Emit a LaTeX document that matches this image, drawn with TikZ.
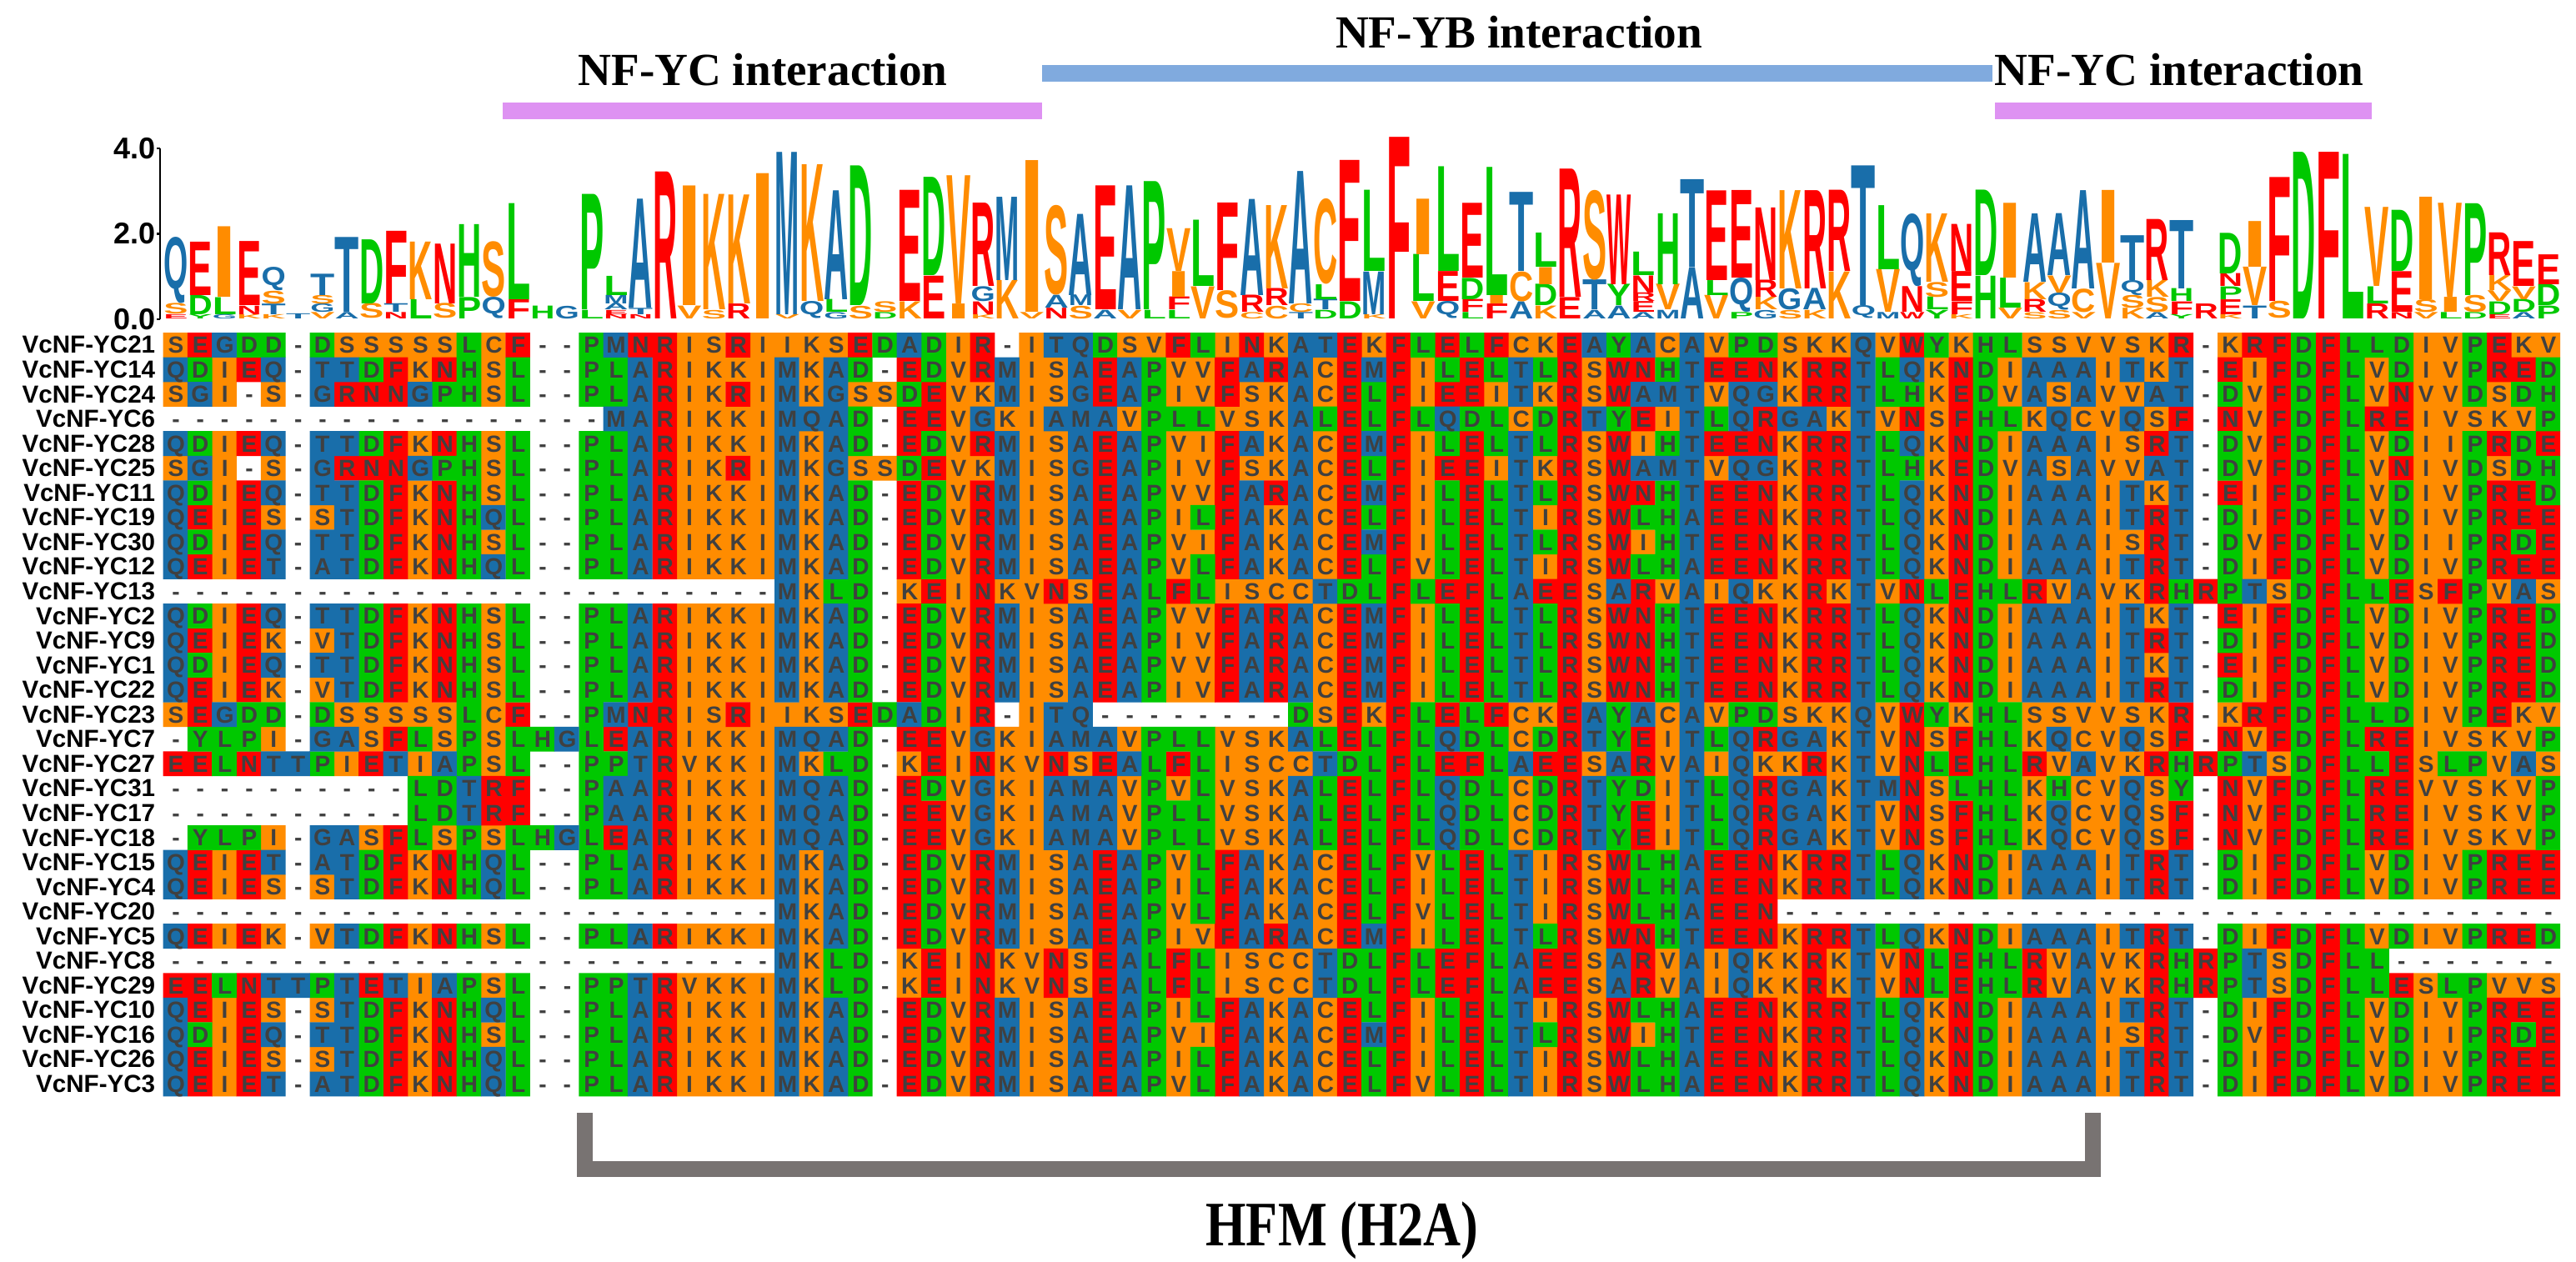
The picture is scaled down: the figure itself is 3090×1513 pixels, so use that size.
\documentclass[tikz,border=0pt]{standalone}
\usepackage{fontspec}
\setmainfont{Liberation Serif}
\setsansfont{Liberation Sans}
\usepackage{graphicx}

\definecolor{cOrange}{RGB}{255,140,0}
\definecolor{cRed}{RGB}{255,0,0}
\definecolor{cGreen}{RGB}{0,200,0}
\definecolor{cBlue}{RGB}{25,110,170}
\definecolor{resText}{RGB}{64,64,64}
\definecolor{barPink}{RGB}{222,146,242}
\definecolor{barBlue}{RGB}{128,170,222}
\definecolor{hfmGray}{RGB}{120,115,114}
% residue colours
\colorlet{aaS}{cOrange}\colorlet{aaV}{cOrange}\colorlet{aaI}{cOrange}\colorlet{aaK}{cOrange}\colorlet{aaC}{cOrange}
\colorlet{aaE}{cRed}\colorlet{aaF}{cRed}\colorlet{aaN}{cRed}\colorlet{aaR}{cRed}\colorlet{aaW}{cRed}
\colorlet{aaD}{cGreen}\colorlet{aaL}{cGreen}\colorlet{aaP}{cGreen}\colorlet{aaH}{cGreen}\colorlet{aaY}{cGreen}
\colorlet{aaA}{cBlue}\colorlet{aaT}{cBlue}\colorlet{aaQ}{cBlue}\colorlet{aaG}{cBlue}\colorlet{aaM}{cBlue}
\def\grpS{O}\def\grpV{O}\def\grpI{O}\def\grpK{O}\def\grpC{O}
\def\grpE{R}\def\grpF{R}\def\grpN{R}\def\grpR{R}\def\grpW{R}
\def\grpD{G}\def\grpL{G}\def\grpP{G}\def\grpH{G}\def\grpY{G}
\def\grpA{B}\def\grpT{B}\def\grpQ{B}\def\grpG{B}\def\grpM{B}

\pgfdeclarelayer{cells}
\pgfsetlayers{cells,main}

\tikzset{
  rowname/.style={anchor=east,inner sep=0,font=\sffamily\bfseries\fontsize{7.4}{8}\selectfont},
  seqtext/.style={anchor=west,inner sep=0,text height=5pt,text depth=0pt,text=resText,
    font=\sffamily\bfseries\fontsize{7}{8}\selectfont},
  logoletter/.style={anchor=south west,inner sep=0,font=\sffamily\bfseries},
  axislbl/.style={anchor=east,inner sep=0,font=\sffamily\bfseries\fontsize{9}{10}\selectfont},
  title/.style={anchor=base,inner sep=0,font=\bfseries\fontsize{13.8}{15}\selectfont},
  bracket/.style={draw=hfmGray,line width=4.75pt},
}

\makeatletter
\newcount\colno
\def\gapchar{-}
\gdef\cellsO{}\gdef\cellsR{}\gdef\cellsG{}\gdef\cellsB{}
\newcommand\cellbox[1]{\makebox[7.335pt]{#1}}
\newcommand\seqrow[3]{%
  \pgfmathsetmacro\cy{399+29.55*(#1-1)}%
  \global\colno=0
  \gdef\rowtext{}%
  \@tfor\rsd:=#3\do{%
    \ifx\rsd\gapchar\else
      \pgfmathsetmacro\cx{195.5+29.34*\colno}%
      \edef\grp{\csname grp\rsd\endcsname}%
      \expandafter\xdef\csname cells\grp\endcsname{\csname cells\grp\endcsname(\cx,\cy) rectangle +(29.7,29.8) }%
    \fi
    \xdef\rowtext{\unexpanded\expandafter{\rowtext}\noexpand\cellbox{\rsd}}%
    \global\advance\colno by 1
  }%
  \node[rowname] (name#1) at (187,\cy+14.78) {VcNF-YC#2};
  \node[seqtext] (seq#1) at (195.5,\cy+14.78) {\rowtext};
}
\makeatother

\newcommand\logocol[2]{%
  \gdef\logoy{383}%
  \foreach \lgl/\lgh in {#2}{%
    \pgfmathsetlengthmacro\lglen{\lgh*12.8125}%
    \node[logoletter] (lg#1\lgl) at ({195.5+29.34*#1},\logoy)
      {\resizebox*{7.3pt}{\lglen}{\textcolor{aa\lgl}{\lgl}}};
    \pgfmathsetmacro\lgnext{\logoy-\lgh*51.25}%
    \xdef\logoy{\lgnext}%
  }%
}

\begin{document}
\begin{tikzpicture}[x=0.25pt,y=-0.25pt]
\begin{pgfonlayer}{cells}
\fill[white] (0,0) rectangle (3090,1513);
\end{pgfonlayer}
\useasboundingbox (0,0) rectangle (3090,1513);

% interaction regions
\fill[barPink] (603,123) rectangle (1250,143);
\fill[barBlue] (1250,78) rectangle (2390,98);
\fill[barPink] (2393,123) rectangle (2845,143);
\node[title] (ycA) at (915,102) {NF-YC interaction};
\node[title] (yb) at (1822,57) {NF-YB interaction};
\node[title] (ycB) at (2614,102) {NF-YC interaction};

% logo axis
\coordinate (ax0) at (192,383);
\coordinate (ax4) at (192,178);
\draw[line width=0.6pt] (ax0) -- (ax4);
\foreach \b in {0,2,4}
  \draw[line width=0.6pt] (192,{383-51.25*\b}) -- (188,{383-51.25*\b});
\node[axislbl] (yzero) at (187,383) {0.0};
\node[axislbl] (ytwo) at (187,280.5) {2.0};
\node[axislbl] (yfour) at (187,178) {4.0};

% sequence logo, letters bottom to top
\logocol{0}{E/0.1,S/0.25,Q/1.55}
\logocol{1}{Y/0.1,D/0.45,E/1.25}
\logocol{2}{G/0.1,L/0.4,I/1.65}
\logocol{3}{K/0.1,N/0.2,E/1.5}
\logocol{4}{K/0.1,T/0.25,S/0.3,Q/0.55}
\logocol{5}{T/0.12}
\logocol{6}{V/0.15,G/0.2,S/0.2,T/0.5}
\logocol{7}{A/0.15,T/1.75}
\logocol{8}{S/0.35,D/1.5}
\logocol{9}{N/0.15,T/0.2,F/1.7}
\logocol{10}{L/0.45,K/1.35}
\logocol{11}{S/0.35,N/1.4}
\logocol{12}{P/0.5,H/1.7}
\logocol{13}{Q/0.5,S/1.3}
\logocol{14}{F/0.45,L/2.25}
\logocol{15}{H/0.3}
\logocol{16}{G/0.3}
\logocol{17}{L/0.2,P/2.7}
\logocol{18}{N/0.1,E/0.1,A/0.15,M/0.2,L/0.45}
\logocol{19}{N/0.1,T/0.15,A/2.55}
\logocol{20}{R/3.44}
\logocol{21}{V/0.3,I/2.8}
\logocol{22}{S/0.2,K/2.7}
\logocol{23}{R/0.35,K/2.55}
\logocol{24}{I/3.4}
\logocol{25}{V/0.1,M/3.8}
\logocol{26}{Q/0.4,K/3.2}
\logocol{27}{G/0.15,L/0.3,A/2.55}
\logocol{28}{S/0.3,D/3.27}
\logocol{29}{D/0.15,S/0.25}
\logocol{30}{K/0.4,E/2.6}
\logocol{31}{E/1.0,D/2.3}
\logocol{32}{I/0.35,V/3.0}
\logocol{33}{K/0.1,N/0.3,G/0.35,R/1.95}
\logocol{34}{K/0.9,M/1.95}
\logocol{35}{V/0.15,I/3.55}
\logocol{36}{N/0.25,A/0.3,S/2.1}
\logocol{37}{S/0.3,M/0.25,A/1.9}
\logocol{38}{A/0.2,E/2.9}
\logocol{39}{V/0.2,A/2.9}
\logocol{40}{L/0.2,P/3.0}
\logocol{41}{L/0.2,F/0.3,I/0.6,V/1.0}
\logocol{42}{V/0.75,L/1.55}
\logocol{43}{S/0.65,F/2.05}
\logocol{44}{C/0.15,R/0.4,A/2.25}
\logocol{45}{C/0.3,R/0.4,K/1.95}
\logocol{46}{T/0.15,C/0.2,A/3.1}
\logocol{47}{D/0.2,T/0.25,L/0.35,C/2.0}
\logocol{48}{D/0.4,E/3.3}
\logocol{49}{K/0.1,M/1.0,L/1.9}
\logocol{50}{F/4.25}
\logocol{51}{V/0.4,L/1.1,I/1.3}
\logocol{52}{Q/0.4,E/0.7,L/2.45}
\logocol{53}{L/0.15,F/0.3,D/0.5,E/1.75}
\logocol{54}{F/0.35,I/0.2,L/3.0}
\logocol{55}{A/0.4,C/0.7,T/1.85}
\logocol{56}{K/0.3,D/0.5,I/0.4,L/0.8}
\logocol{57}{E/0.5,R/3.0}
\logocol{58}{A/0.2,T/0.7,S/2.1}
\logocol{59}{A/0.3,Y/0.5,W/2.1}
\logocol{60}{A/0.15,E/0.25,R/0.2,N/0.4,L/0.55}
\logocol{61}{M/0.2,V/0.6,H/1.66}
\logocol{62}{A/1.2,T/2.05}
\logocol{63}{V/0.55,L/0.35,E/2.1}
\logocol{64}{P/0.15,Q/0.8,E/2.05}
\logocol{65}{G/0.2,K/0.3,R/0.4,N/1.7}
\logocol{66}{S/0.2,G/0.5,K/2.3}
\logocol{67}{K/0.2,A/0.5,R/2.3}
\logocol{68}{K/1.1,R/1.9}
\logocol{69}{Q/0.3,T/3.27}
\logocol{70}{M/0.15,V/1.0,L/1.5}
\logocol{71}{W/0.15,N/0.6,Q/1.7}
\logocol{72}{Y/0.2,L/0.3,S/0.35,K/1.6}
\logocol{73}{K/0.1,F/0.3,E/0.7,N/1.1}
\logocol{74}{H/1.0,D/2.0}
\logocol{75}{V/0.25,L/0.7,I/1.75}
\logocol{76}{S/0.15,R/0.3,K/0.4,A/1.6}
\logocol{77}{S/0.2,Q/0.4,V/0.4,A/1.45}
\logocol{78}{V/0.15,C/0.55,A/2.3}
\logocol{79}{V/1.3,I/1.7}
\logocol{80}{K/0.25,S/0.3,Q/0.35,T/1.05}
\logocol{81}{A/0.15,S/0.35,K/0.4,R/1.43}
\logocol{82}{Y/0.1,F/0.3,H/0.3,T/1.6}
\logocol{83}{R/0.35}
\logocol{84}{K/0.1,E/0.35,P/0.3,N/0.3,D/0.95}
\logocol{85}{T/0.3,V/0.9,I/1.07}
\logocol{86}{S/0.4,F/2.9}
\logocol{87}{D/3.9}
\logocol{88}{F/3.9}
\logocol{89}{L/3.85}
\logocol{90}{R/0.35,L/0.4,V/1.85}
\logocol{91}{N/0.15,E/0.95,D/1.43}
\logocol{92}{V/0.15,S/0.3,I/2.4}
\logocol{93}{L/0.15,I/0.35,V/2.2}
\logocol{94}{D/0.15,S/0.4,P/2.15}
\logocol{95}{E/0.1,D/0.3,V/0.25,K/0.35,R/1.0}
\logocol{96}{A/0.15,D/0.3,V/0.3,E/1.05}
\logocol{97}{P/0.3,D/0.5,E/0.7}

% alignment
\seqrow{1}{21}{SEGDD-DSSSSSLCF--PMNRISRIIKSEDADIR-ITQDSVFLINKATEKFLELFCKEAYACAVPDSKKQVWYKHLSSVVSKR-KRFDFLLDIVPEKV}
\seqrow{2}{14}{QDIEQ-TTDFKNHSL--PLARIKKIMKAD-EDVRMISAEAPVVFARACEMFILELTLRSWNHTEENKRRTLQKNDIAAAITKT-EIFDFLVDIVPRED}
\seqrow{3}{24}{SGI-S-GRNNGPHSL--PLARIKRIMKGSSDEVKMISGEAPIVFSKACELFIEEITKRSWAMTVQGKRRTLHKEDVASAVVAT-DVFDFLVNVVDSDH}
\seqrow{4}{6}{------------------MARIKKIMQAD-EEVGKIAMAVPLLVSKALELFLQDLCDRTYEITLQRGAKTVNSFHLKQCVQSF-NVFDFLREIVSKVP}
\seqrow{5}{28}{QDIEQ-TTDFKNHSL--PLARIKKIMKAD-EDVRMISAEAPVIFAKACEMFILELTLRSWIHTEENKRRTLQKNDIAAAISRT-DVFDFLVDIIPRDE}
\seqrow{6}{25}{SGI-S-GRNNGPHSL--PLARIKRIMKGSSDEVKMISGEAPIVFSKACELFIEEITKRSWAMTVQGKRRTLHKEDVASAVVAT-DVFDFLVNIVDSDH}
\seqrow{7}{11}{QDIEQ-TTDFKNHSL--PLARIKKIMKAD-EDVRMISAEAPVVFARACEMFILELTLRSWNHTEENKRRTLQKNDIAAAITKT-EIFDFLVDIVPRED}
\seqrow{8}{19}{QEIES-STDFKNHQL--PLARIKKIMKAD-EDVRMISAEAPILFAKACELFILELTIRSWLHAEENKRRTLQKNDIAAAITRT-DIFDFLVDIVPREE}
\seqrow{9}{30}{QDIEQ-TTDFKNHSL--PLARIKKIMKAD-EDVRMISAEAPVIFAKACEMFILELTLRSWIHTEENKRRTLQKNDIAAAISRT-DVFDFLVDIIPRDE}
\seqrow{10}{12}{QEIET-ATDFKNHQL--PLARIKKIMKAD-EDVRMISAEAPVLFAKACELFVLELTIRSWLHAEENKRRTLQKNDIAAAITRT-DIFDFLVDIVPREE}
\seqrow{11}{13}{-------------------------MKLD-KEINKVNSEALFLISCCTDLFLEFLAEESARVAIQKKRKTVNLEHLRVAVKRHRPTSDFLLESFPVAS}
\seqrow{12}{2}{QDIEQ-TTDFKNHSL--PLARIKKIMKAD-EDVRMISAEAPVVFARACEMFILELTLRSWNHTEENKRRTLQKNDIAAAITKT-EIFDFLVDIVPRED}
\seqrow{13}{9}{QEIEK-VTDFKNHSL--PLARIKKIMKAD-EDVRMISAEAPIVFARACEMFILELTLRSWNHTEENKRRTLQKNDIAAAITRT-DIFDFLVDIVPRED}
\seqrow{14}{1}{QDIEQ-TTDFKNHSL--PLARIKKIMKAD-EDVRMISAEAPVVFARACEMFILELTLRSWNHTEENKRRTLQKNDIAAAITKT-EIFDFLVDIVPRED}
\seqrow{15}{22}{QEIEK-VTDFKNHSL--PLARIKKIMKAD-EDVRMISAEAPIVFARACEMFILELTLRSWNHTEENKRRTLQKNDIAAAITRT-DIFDFLVDIVPRED}
\seqrow{16}{23}{SEGDD-DSSSSSLCF--PMNRISRIIKSEDADIR-ITQ--------DSEKFLELFCKEAYACAVPDSKKQVWYKHLSSVVSKR-KRFDFLLDIVPEKV}
\seqrow{17}{7}{-YLPI-GASFLSPSLHGLEARIKKIMQAD-EEVGKIAMAVPLLVSKALELFLQDLCDRTYEITLQRGAKTVNSFHLKQCVQSF-NVFDFLREIVSKVP}
\seqrow{18}{27}{EELNTTPIETIAPSL--PPTRVKKIMKLD-KEINKVNSEALFLISCCTDLFLEFLAEESARVAIQKKRKTVNLEHLRVAVKRHRPTSDFLLESLPVAS}
\seqrow{19}{31}{----------LDTRF--PAARIKKIMQAD-EDVGKIAMAVPVLVSKALELFLQDLCDRTYDITLQRGAKTMNSLHLKHCVQSY-NVFDFLREVVSKVP}
\seqrow{20}{17}{----------LDTRF--PAARIKKIMQAD-EEVGKIAMAVPLLVSKALELFLQDLCDRTYEITLQRGAKTVNSFHLKQCVQSF-NVFDFLREIVSKVP}
\seqrow{21}{18}{-YLPI-GASFLSPSLHGLEARIKKIMQAD-EEVGKIAMAVPLLVSKALELFLQDLCDRTYEITLQRGAKTVNSFHLKQCVQSF-NVFDFLREIVSKVP}
\seqrow{22}{15}{QEIET-ATDFKNHQL--PLARIKKIMKAD-EDVRMISAEAPVLFAKACELFVLELTIRSWLHAEENKRRTLQKNDIAAAITRT-DIFDFLVDIVPREE}
\seqrow{23}{4}{QEIES-STDFKNHQL--PLARIKKIMKAD-EDVRMISAEAPILFAKACELFILELTIRSWLHAEENKRRTLQKNDIAAAITRT-DIFDFLVDIVPREE}
\seqrow{24}{20}{-------------------------MKAD-EDVRMISAEAPVLFAKACELFVLELTIRSWLHAEEN--------------------------------}
\seqrow{25}{5}{QEIEK-VTDFKNHSL--PLARIKKIMKAD-EDVRMISAEAPIVFARACEMFILELTLRSWNHTEENKRRTLQKNDIAAAITRT-DIFDFLVDIVPRED}
\seqrow{26}{8}{-------------------------MKLD-KEINKVNSEALFLISCCTDLFLEFLAEESARVAIQKKRKTVNLEHLRVAVKRHRPTSDFLL-------}
\seqrow{27}{29}{EELNTTPTETIAPSL--PPTRVKKIMKLD-KEINKVNSEALFLISCCTDLFLEFLAEESARVAIQKKRKTVNLEHLRVAVKRHRPTSDFLLESLPVVS}
\seqrow{28}{10}{QEIES-STDFKNHQL--PLARIKKIMKAD-EDVRMISAEAPILFAKACELFILELTIRSWLHAEENKRRTLQKNDIAAAITRT-DIFDFLVDIVPREE}
\seqrow{29}{16}{QDIEQ-TTDFKNHSL--PLARIKKIMKAD-EDVRMISAEAPVIFAKACEMFILELTLRSWIHTEENKRRTLQKNDIAAAISRT-DVFDFLVDIIPRDE}
\seqrow{30}{26}{QEIES-STDFKNHQL--PLARIKKIMKAD-EDVRMISAEAPILFAKACELFILELTIRSWLHAEENKRRTLQKNDIAAAITRT-DIFDFLVDIVPREE}
\seqrow{31}{3}{QEIET-ATDFKNHQL--PLARIKKIMKAD-EDVRMISAEAPVLFAKACELFVLELTIRSWLHAEENKRRTLQKNDIAAAITRT-DIFDFLVDIVPREE}

% cell colours behind the letters
\begin{pgfonlayer}{cells}
\foreach \g/\c in {O/cOrange,R/cRed,G/cGreen,B/cBlue}{
  \edef\cellfill{\noexpand\fill[\c] \csname cells\g\endcsname;}\cellfill
}
\end{pgfonlayer}

% HFM bracket
\coordinate (hfmL) at (701,1335);
\coordinate (hfmR) at (2510,1335);
\coordinate (hfmBL) at (701,1402);
\coordinate (hfmBR) at (2510,1402);
\draw[bracket] (hfmL) -- (hfmBL) -- (hfmBR) -- (hfmR);
\node[anchor=base,inner sep=0,font=\bfseries\fontsize{19}{21}\selectfont] (hfm) at (1610,1494)
  {\scalebox{0.82}[1]{HFM (H2A)}};
\end{tikzpicture}
\end{document}
